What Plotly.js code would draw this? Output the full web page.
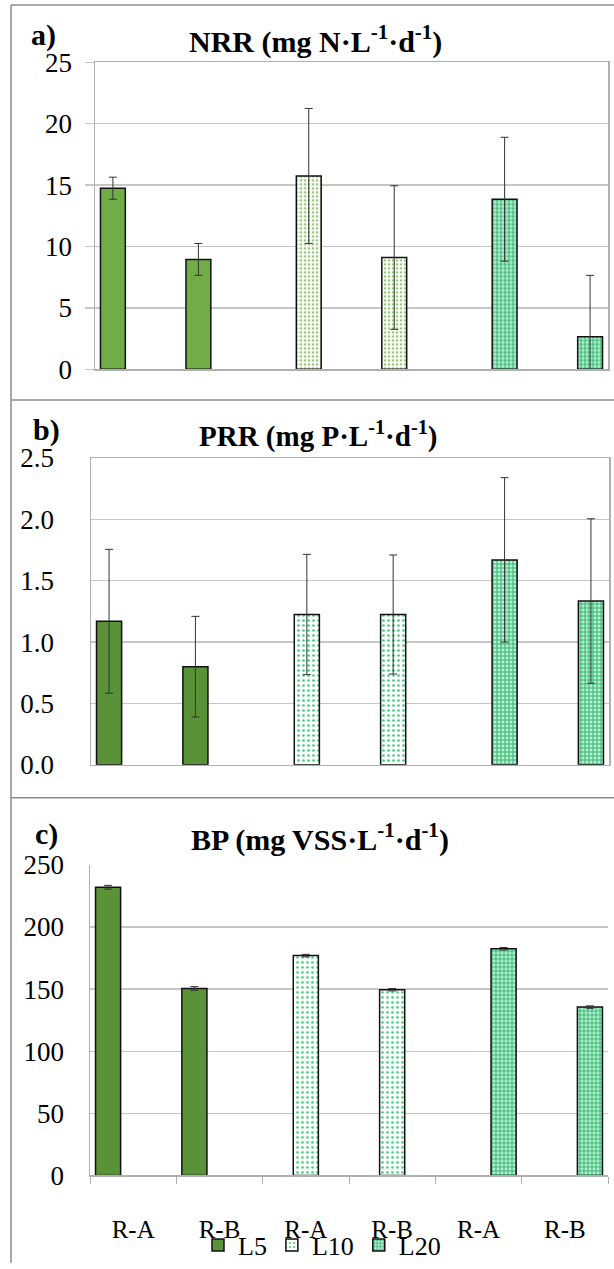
<!DOCTYPE html>
<html>
<head>
<meta charset="utf-8">
<script src="https://cdn.plot.ly/plotly-3.0.1.min.js"></script>
<style>html,body{margin:0;padding:0;background:#fff;overflow:hidden;}#chart{width:614px;height:1269px;}</style>
</head>
<body>
<div id="chart"></div>
<script>
// ---- data ----
const categories = ['R-A', 'R-B', 'R-A', 'R-B', 'R-A', 'R-B'];
const xKeys = ['k1', 'k2', 'k3', 'k4', 'k5', 'k6'];
const seriesNames = ['L5', 'L10', 'L20'];

// NRR (mg N/L/d): [R-A, R-B]
const nrrL5 = [14.75, 8.95];
const nrrL5Err = [0.9, 1.3];
const nrrL10 = [15.75, 9.1];
const nrrL10Err = [5.5, 5.85];
const nrrL20 = [13.85, 2.65];
const nrrL20Err = [5.05, 5.0];

// PRR (mg P/L/d)
const prrL5 = [1.17, 0.80];
const prrL5Err = [0.586, 0.41];
const prrL10 = [1.225, 1.225];
const prrL10Err = [0.49, 0.485];
const prrL20 = [1.67, 1.335];
const prrL20Err = [0.67, 0.67];

// BP (mg VSS/L/d)
const bpL5 = [232, 150.5];
const bpL5Err = [1.5, 1.5];
const bpL10 = [177, 149.5];
const bpL10Err = [1.0, 1.0];
const bpL20 = [182.5, 135.5];
const bpL20Err = [1.0, 1.0];

const FONT = "'Liberation Serif', 'Times New Roman', serif";

function full(vals, slot) {
  const out = [null, null, null, null, null, null];
  out[slot * 2] = vals[0];
  out[slot * 2 + 1] = vals[1];
  return out;
}

const styleA = [
  {color: '#70ad47'},
  {color: '#ffffff', pattern: {shape: '.', fgcolor: '#98c97a', bgcolor: '#ffffff', size: 4, solidity: 0.35}},
  {color: '#b5ead0', pattern: {shape: '+', fgcolor: '#34b86e', bgcolor: '#b8ecd2', size: 4, solidity: 0.45}}
];
const styleBC = [
  {color: '#5a9237'},
  {color: '#ffffff', pattern: {shape: '.', fgcolor: '#3ccf7a', bgcolor: '#ffffff', size: 5, solidity: 0.22}},
  {color: '#b5ead0', pattern: {shape: '+', fgcolor: '#34b86e', bgcolor: '#b8ecd2', size: 4, solidity: 0.45}}
];

const panels = [
  {vals: [nrrL5, nrrL10, nrrL20], errs: [nrrL5Err, nrrL10Err, nrrL20Err], styles: styleA, xa: 'x', ya: 'y', legend: false},
  {vals: [prrL5, prrL10, prrL20], errs: [prrL5Err, prrL10Err, prrL20Err], styles: styleBC, xa: 'x2', ya: 'y2', legend: false},
  {vals: [bpL5, bpL10, bpL20], errs: [bpL5Err, bpL10Err, bpL20Err], styles: styleBC, xa: 'x3', ya: 'y3', legend: true}
];

const traces = [];
panels.forEach(p => {
  seriesNames.forEach((name, s) => {
    const st = p.styles[s];
    const marker = {color: st.color, line: {color: '#111111', width: 1.5}};
    if (st.pattern) marker.pattern = st.pattern;
    traces.push({
      type: 'bar',
      name: name,
      x: xKeys,
      y: full(p.vals[s], s),
      xaxis: p.xa,
      yaxis: p.ya,
      marker: marker,
      showlegend: p.legend,
      error_y: {type: 'data', array: full(p.errs[s], s), visible: true, color: '#333333', thickness: 1, width: 4}
    });
  });
});

const W = 614, H = 1269;
const px = v => v / W;
const py = v => 1 - v / H;

const gridC = '#c6c6c6';
const lineC = '#b0b0b0';
const tickFont = {family: FONT, size: 27, color: '#000'};

function xAxis(domain, showLabels, anchor) {
  const ax = {
    domain: domain, anchor: anchor, type: 'category',
    tickvals: xKeys, ticktext: categories,
    showline: true, linecolor: lineC, linewidth: 1.5,
    showgrid: false, zeroline: false, fixedrange: true
  };
  if (showLabels) {
    ax.tickson = 'boundaries';
    ax.ticks = 'outside';
    ax.ticklen = 7;
    ax.tickcolor = lineC;
    ax.tickfont = {family: FONT, size: 25, color: '#000'};
    ax.ticklabelstandoff = 31;
  } else {
    ax.showticklabels = false;
    ax.ticks = '';
  }
  return ax;
}
function yAxis(domain, range, dtick, fmt, anchor, outsideTicks, standoff) {
  return {
    domain: domain, anchor: anchor, range: range, dtick: dtick, tickformat: fmt,
    showgrid: true, gridcolor: gridC, gridwidth: 1.4,
    showline: true, linecolor: lineC, linewidth: 1.5,
    zeroline: false,
    ticks: outsideTicks ? 'outside' : '', ticklen: 9, tickcolor: gridC, tickwidth: 1.4,
    tickfont: tickFont, ticklabelstandoff: standoff, fixedrange: true
  };
}

function ann(text, x, y, size) {
  return {text: text, x: px(x), y: py(y), xref: 'paper', yref: 'paper', xanchor: 'center', yanchor: 'middle',
          showarrow: false, font: {family: FONT, size: size, color: '#000'}};
}

const layout = {
  width: W, height: H,
  margin: {l: 0, r: 0, t: 0, b: 0},
  paper_bgcolor: '#ffffff', plot_bgcolor: '#ffffff',
  barmode: 'group', bargap: 0.128, bargroupgap: 0,
  showlegend: true,
  legend: {
    orientation: 'h', x: px(322), xanchor: 'center', y: py(1251), yanchor: 'middle',
    bgcolor: 'rgba(0,0,0,0)',
    font: {family: FONT, size: 26, color: '#000'}, itemwidth: 30, tracegroupgap: 0
  },
  xaxis: Object.assign(xAxis([px(95), px(608)], false, 'y'), {mirror: true}),
  yaxis: Object.assign(yAxis([py(371), py(62.7)], [0, 25], 5, 'd', 'x', true, 7), {mirror: true}),
  xaxis2: Object.assign(xAxis([px(91), px(609)], false, 'y2'), {mirror: true}),
  yaxis2: Object.assign(yAxis([py(768.5), py(460.2)], [0, 2.5], 0.5, '.1f', 'x2', false, 30), {mirror: true}),
  xaxis3: xAxis([px(90), px(608)], true, 'y3'),
  yaxis3: yAxis([py(1181), py(869)], [0, 250], 50, 'd', 'x3', false, 19),
  annotations: [
    ann('<b>a)</b>', 43, 35, 30),
    ann('<b>NRR (mg N·L<sup>-1</sup>·d<sup>-1</sup>)</b>', 315, 40, 30),
    ann('<b>b)</b>', 46, 432, 30),
    ann('<b>PRR (mg P·L<sup>-1</sup>·d<sup>-1</sup>)</b>', 318, 437, 29),
    ann('<b>c)</b>', 46, 838, 30),
    ann('<b>BP (mg VSS·L<sup>-1</sup>·d<sup>-1</sup>)</b>', 320, 841, 30)
  ],
  shapes: [
    {type: 'line', xref: 'paper', yref: 'paper', x0: px(11), x1: px(11), y0: 0, y1: py(5), line: {color: '#8c8c8c', width: 1.5}},
    {type: 'line', xref: 'paper', yref: 'paper', x0: px(11), x1: 1, y0: py(5), y1: py(5), line: {color: '#8c8c8c', width: 1.5}},
    {type: 'line', xref: 'paper', yref: 'paper', x0: px(11), x1: 1, y0: py(402), y1: py(402), line: {color: '#8c8c8c', width: 1.5}},
    {type: 'line', xref: 'paper', yref: 'paper', x0: px(11), x1: 1, y0: py(801.5), y1: py(801.5), line: {color: '#8c8c8c', width: 1.5}}
  ]
};

Plotly.newPlot('chart', traces, layout, {displayModeBar: false, staticPlot: true});
</script>
</body>
</html>
